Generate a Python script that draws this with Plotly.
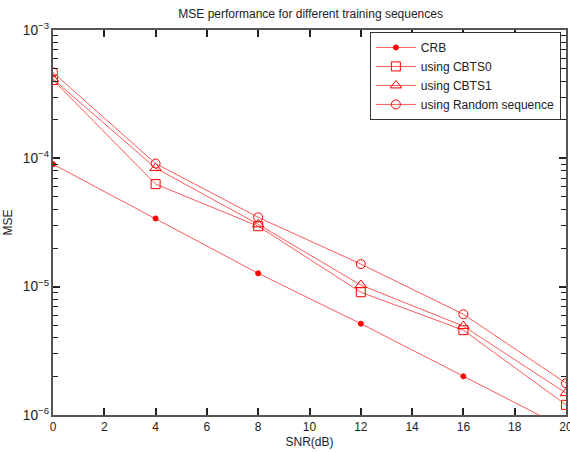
import plotly.graph_objects as go

snr = [0, 4, 8, 12, 16, 20]
crb = [9.0e-5, 3.4e-5, 1.27e-5, 5.15e-6, 2.0e-6, 7.8e-7]
cbts0 = [4.08e-4, 6.3e-5, 2.96e-5, 9.05e-6, 4.58e-6, 1.2e-6]
cbts1 = [4.15e-4, 8.4e-5, 3.06e-5, 1.03e-5, 4.93e-6, 1.48e-6]
rand_seq = [4.67e-4, 9.1e-5, 3.47e-5, 1.5e-5, 6.1e-6, 1.77e-6]

x_ticks = [0, 2, 4, 6, 8, 10, 12, 14, 16, 18, 20]
minor_y_ticks = [m * 10.0 ** e for e in (-6, -5, -4) for m in range(2, 10)]

names = ["CRB", "using CBTS0", "using CBTS1", "using Random sequence"]
symbols = ["circle", "square-open", "triangle-up-open", "circle-open"]
sizes = [5, 9, 10, 9]
series = [crb, cbts0, cbts1, rand_seq]

line_col = "rgb(255,90,90)"
fig = go.Figure()
# invisible trace to carry the minor-tick axis
fig.add_trace(go.Scatter(x=[None], y=[None], yaxis="y2", showlegend=False,
                         hoverinfo="skip", mode="lines"))
for n, s, sz, y in zip(names, symbols, sizes, series):
    fig.add_trace(go.Scatter(
        x=snr, y=y, name=n, mode="lines+markers",
        line=dict(color=line_col, width=1),
        marker=dict(symbol=s, size=sz, color="red", line=dict(color="red", width=1)),
        cliponaxis=True,
    ))

font = dict(family="Liberation Sans, Arial, sans-serif", size=12, color="#222")
fig.update_layout(
    width=570, height=452,
    margin=dict(l=53, r=4, t=30, b=37),
    paper_bgcolor="white", plot_bgcolor="white",
    font=font,
    title=dict(text="MSE performance for different training sequences",
               x=0.545, xanchor="center", y=0.97, yanchor="middle",
               font=dict(size=12, color="#222")),
    showlegend=True,
    legend=dict(x=0.99, xanchor="right", y=0.995, yanchor="top",
                bgcolor="white", bordercolor="#333", borderwidth=1,
                font=dict(size=12, color="#222"), tracegroupgap=0,
                itemwidth=40),
    yaxis2=dict(type="log", range=[-6, -3], overlaying="y", side="left",
                tickmode="array", tickvals=minor_y_ticks, showticklabels=False,
                ticks="inside", ticklen=5, tickwidth=1.2, tickcolor="#222", showgrid=False,
                zeroline=False, showline=False, mirror="ticks", automargin=False),
)
fig.update_xaxes(
    range=[0, 20], tickvals=x_ticks, ticklabeloverflow="allow", automargin=False,
    ticks="inside", ticklen=7, tickwidth=1.5, tickcolor="#222", showgrid=False, zeroline=False,
    showline=True, linecolor="#555", linewidth=1.5, mirror="ticks",
    tickfont=dict(size=12),
    title=dict(text="SNR(dB)", standoff=4, font=dict(size=12)),
)
fig.layout.yaxis.update(
    type="log", range=[-6, -3], tickmode="linear", tick0=0, dtick=1,
    exponentformat="power", automargin=False, tickfont=dict(size=11),
    ticks="inside", ticklen=7, tickwidth=1.5, tickcolor="#222", showgrid=False, zeroline=False,
    showline=True, linecolor="#555", linewidth=1.5, mirror="ticks",
    title=dict(text="MSE", standoff=8, font=dict(size=12)),
)
fig.write_html("out.html")
